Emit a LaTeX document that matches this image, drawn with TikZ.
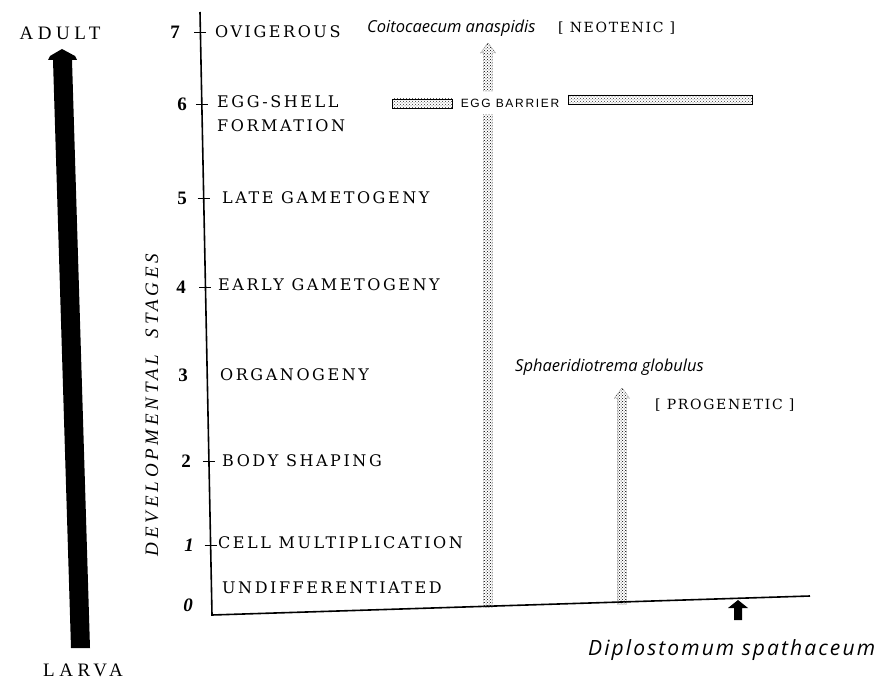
\documentclass[tikz,border=0pt]{standalone}
\usepackage{fontspec}
\setmainfont{Liberation Serif}
\usetikzlibrary{patterns}
\newfontfamily\capf[LetterSpace=16]{DejaVu Serif}
\newfontfamily\tagf[LetterSpace=12]{DejaVu Serif}
\newfontfamily\bigcapf[LetterSpace=24]{Liberation Serif}
\newfontfamily\devf[LetterSpace=20]{Liberation Serif}
\newfontfamily\spf{Open Sans}
\newfontfamily\spbf[LetterSpace=10]{Open Sans}
\newfontfamily\ebf[LetterSpace=14]{Liberation Sans}
\newcommand\stipArrow[3]{\path[stiparr] (#1-4.5,#2) -- (#1-4.5,#3+10) -- (#1-7.5,#3+10) -- (#1,#3) -- (#1+7.5,#3+10) -- (#1+4.5,#3+10) -- (#1+4.5,#2) -- cycle;}
\begin{document}
\begin{tikzpicture}[x=1pt,y=-1pt,
  lab/.style={font=\capf\fontsize{16}{24}\selectfont, anchor=west, inner sep=0pt, align=left},
  num/.style={font=\fontsize{19}{20}\selectfont\bfseries, inner sep=0pt},
  numi/.style={font=\fontsize{19}{20}\selectfont\bfseries\itshape, inner sep=0pt},
  sp/.style={font=\spf\itshape\fontsize{16.5}{20}\selectfont, anchor=west, inner sep=0pt},
  tag/.style={font=\tagf\fontsize{14}{17}\selectfont, anchor=west, inner sep=0pt},
  big/.style={font=\bigcapf\fontsize{19}{20}\selectfont, inner sep=0pt},
  axisline/.style={line width=1.6pt},
  tickline/.style={line width=0.8pt},
  stiparr/.style={pattern=crosshatch dots, pattern color=black, draw=black!80, line width=0.5pt, densely dotted},
  stipbar/.style={pattern=crosshatch dots, pattern color=black!80, draw=black, line width=0.5pt}]
\useasboundingbox (0,0) rectangle (884,685);

% big black arrow
\fill (53,60) -- (48,60) -- (50,56) -- (62,49) -- (75,56) -- (77,60) -- (72,60) -- (90,648) -- (71,648) -- cycle;
\node[big] (adult) at (60,33) {ADULT};
\node[big] (larva) at (83,670) {LARVA};

% axes
\coordinate (vtop) at (200,12);
\coordinate (orig) at (212,615);
\coordinate (hend) at (810,596);
\draw[axisline] (vtop) -- (orig) -- (hend);
\foreach \y in {32,104,198,287,461,545}
  \draw[tickline] ({200+12*(\y-12)/603-6},\y) -- ++(12,0);

% axis title
\node[font=\devf\itshape\fontsize{19}{20}\selectfont, rotate=90, inner sep=0pt] (dev) at (152,405) {DEVELOPMENTAL\hspace{8pt} STAGES};

% numbers
\node[num] (n7) at (175,32) {7};
\node[num] (n6) at (182,104) {6};
\node[num] (n5) at (182,198) {5};
\node[num] (n4) at (181,287) {4};
\node[num] (n3) at (183,375) {3};
\node[num] (n2) at (186,461) {2};
\node[numi] (n1) at (189,545) {1};
\node[numi] (n0) at (188,605) {0};

% stage labels
\node[lab] (s7) at (215,32) {OVIGEROUS};
\node[lab] (s6) at (217,114) {EGG-SHELL\\FORMATION};
\node[lab] (s5) at (222,198) {LATE GAMETOGENY};
\node[lab] (s4) at (218,285) {EARLY GAMETOGENY};
\node[lab] (s3) at (220,375) {ORGANOGENY};
\node[lab] (s2) at (222,461) {BODY SHAPING};
\node[lab] (s1) at (218,543) {CELL MULTIPLICATION};
\node[lab] (s0) at (222,588) {UNDIFFERENTIATED};

% stippled arrows
\stipArrow{488}{607}{43}
\stipArrow{622}{604}{388}

% egg barrier
\path[stipbar] (392,99) rectangle (452,108);
\path[stipbar] (568,95) rectangle (752,104);
\node[font=\ebf\fontsize{12}{13}\selectfont, fill=white, inner xsep=2pt, inner ysep=7pt] (egg) at (510,103) {EGG BARRIER};

% species labels
\node[sp] (coito) at (367,28) {Coitocaecum anaspidis};
\node[tag] (neo) at (558,28) {[ NEOTENIC ]};
\node[sp] (sphae) at (515,367) {Sphaeridiotrema globulus};
\node[tag] (prog) at (655,405) {[ PROGENETIC ]};
\node[font=\spbf\itshape\fontsize{21}{23}\selectfont, anchor=west, inner sep=0pt] (diplo) at (588,650) {Diplostomum spathaceum};

% small black arrow
\fill (734,620) -- (734,608) -- (728,608) -- (738,600) -- (748,608) -- (742,608) -- (742,620) -- cycle;
\end{tikzpicture}
\end{document}
